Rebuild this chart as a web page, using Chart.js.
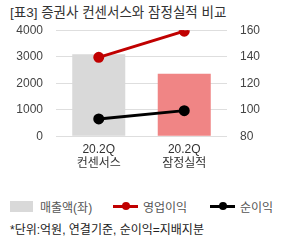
<!DOCTYPE html>
<html>
<head>
<meta charset="utf-8">
<script src="https://cdn.jsdelivr.net/npm/chart.js@4"></script>
<style>
  body { margin: 0; width: 283px; height: 240px; background: #fff; overflow: hidden;
         font-family: "Liberation Sans", "Noto Sans CJK KR", sans-serif; color: #333; position: relative; }
  #title { position: absolute; left: 10px; top: 1px; font-size: 13.5px; color: #333; white-space: nowrap; }
  #wrap { position: absolute; left: 0; top: 10px; width: 283px; height: 167px; }
  #legend { position: absolute; top: 198px; left: 10px; font-size: 12px; color: #555; white-space: nowrap; }
  #legend span.item { position: absolute; top: 0; }
  .box { position: absolute; top: 3px; width: 23px; height: 11px; background: #d9d9d9; }
  .ln { position: absolute; top: 7px; width: 25px; height: 3px; }
  .dot { position: absolute; top: 4px; left: 9px; width: 8px; height: 8px; border-radius: 50%; }
  #note { position: absolute; top: 220px; left: 10px; font-size: 12px; color: #222; white-space: nowrap; }
</style>
</head>
<body>
<div id="title">[표3] 증권사 컨센서스와 잠정실적 비교</div>
<div id="wrap"><canvas id="chart"></canvas></div>
<div id="legend"></div>
<div id="note">*단위:억원, 연결기준, 순이익=지배지분</div>
<script>
// 데이터
const categories = [['20.2Q', '컨센서스'], ['20.2Q', '잠정실적']];
const salesValues = [3090, 2360];      // 매출액(좌)
const opProfit = [139.5, 159.3];       // 영업이익(우)
const netProfit = [93, 99.3];          // 순이익(우)
const leftTicks = [0, 1000, 2000, 3000, 4000];
const rightTicks = [80, 100, 120, 140, 160];

const seriesNames = ['매출액(좌)', '영업이익', '순이익'];
const barColors = ['#d9d9d9', '#f08585'];
const lineColors = ['#c00000', '#000000'];

const ctx = document.getElementById('chart').getContext('2d');
new Chart(ctx, {
  data: {
    labels: categories,
    datasets: [
      {
        type: 'line', label: seriesNames[1], data: opProfit, yAxisID: 'y1',
        borderColor: lineColors[0], backgroundColor: lineColors[0], borderWidth: 3,
        pointRadius: 4, pointHoverRadius: 4, order: 1
      },
      {
        type: 'line', label: seriesNames[2], data: netProfit, yAxisID: 'y1',
        borderColor: lineColors[1], backgroundColor: lineColors[1], borderWidth: 3,
        pointRadius: 4, pointHoverRadius: 4, order: 2
      },
      {
        type: 'bar', label: seriesNames[0], data: salesValues, yAxisID: 'y',
        backgroundColor: barColors, barPercentage: 0.62, categoryPercentage: 1, order: 3
      }
    ]
  },
  options: {
    responsive: true,
    maintainAspectRatio: false,
    animation: false,
    layout: { padding: { top: 2, left: 0, right: 0, bottom: 0 } },
    plugins: { legend: { display: false }, tooltip: { enabled: false } },
    scales: {
      x: {
        grid: { display: false, drawTicks: false },
        border: { display: false },
        ticks: { color: '#333', font: { size: 12, family: '"Liberation Sans", "Noto Sans CJK KR"' }, padding: 6 }
      },
      y: {
        position: 'left', min: 0, max: 4000,
        afterFit: s => { s.width = 56; },
        afterBuildTicks: s => {
          // 보조 눈금선 포함 (500 간격)
          const t = [];
          for (let i = 0; i < leftTicks.length; i++) {
            t.push({ value: leftTicks[i] });
            if (i < leftTicks.length - 1) t.push({ value: leftTicks[i] + 500 });
          }
          s.ticks = t;
        },
        grid: { color: '#dedede', drawTicks: false },
        border: { display: false },
        ticks: {
          color: '#444', padding: 13, font: { size: 12, family: '"Liberation Sans"' },
          callback: v => leftTicks.includes(v) ? String(v) : ''
        }
      },
      y1: {
        position: 'right', min: 80, max: 160,
        afterFit: s => { s.width = 56; },
        afterBuildTicks: s => { s.ticks = rightTicks.map(v => ({ value: v })); },
        grid: { display: false, drawTicks: false },
        border: { display: false },
        ticks: { color: '#444', padding: 13, font: { size: 12, family: '"Liberation Sans"' } }
      }
    }
  }
});

// 범례
const legend = document.getElementById('legend');
legend.innerHTML =
  '<span class="item" style="left:0"><span class="box"></span><span style="position:absolute;left:30px">' + seriesNames[0] + '</span></span>' +
  '<span class="item" style="left:103px"><span class="ln" style="background:' + lineColors[0] + '"></span><span class="dot" style="background:' + lineColors[0] + '"></span><span style="position:absolute;left:30px">' + seriesNames[1] + '</span></span>' +
  '<span class="item" style="left:200px"><span class="ln" style="background:' + lineColors[1] + '"></span><span class="dot" style="background:' + lineColors[1] + '"></span><span style="position:absolute;left:30px">' + seriesNames[2] + '</span></span>';
</script>
</body>
</html>
